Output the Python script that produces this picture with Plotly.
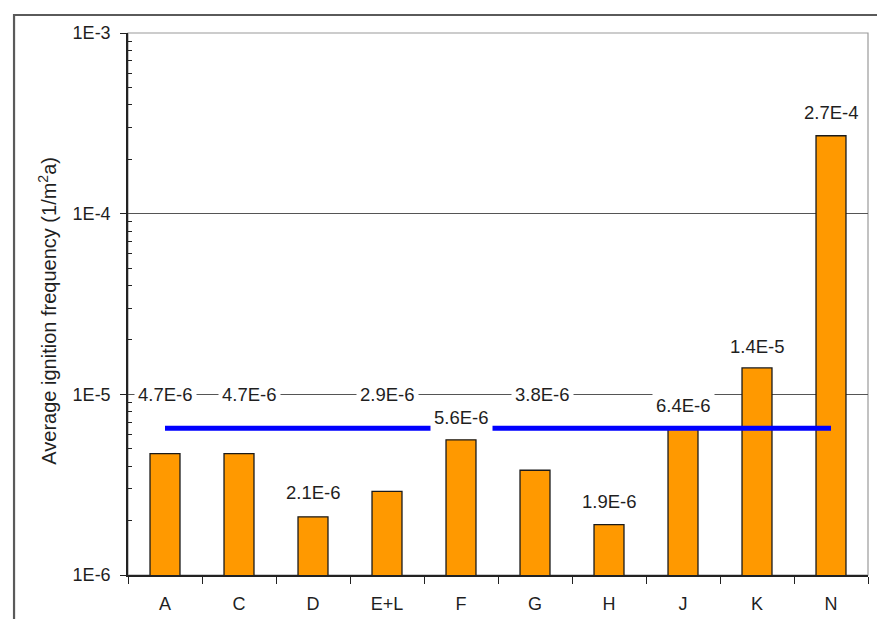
import plotly.graph_objects as go
import numpy as np

# Sites and their average ignition frequencies (1/m²a)
categories = ["A", "C", "D", "E+L", "F", "G", "H", "J", "K", "N"]
frequencies = [4.7e-6, 4.7e-6, 2.1e-6, 2.9e-6, 5.6e-6, 3.8e-6, 1.9e-6, 6.4e-6, 1.4e-5, 2.7e-4]

# Overall average level drawn as a reference line
average_level = [6.5e-6, 6.5e-6]
average_span = ["A", "N"]

# Heights at which the value labels are placed
label_heights = [1.0e-5, 1.0e-5, 2.88e-6, 1.0e-5, 7.4e-6, 1.0e-5, 2.54e-6, 8.7e-6, 1.85e-5, 3.65e-4]
label_xshift = [0, 10, 0, 0, 0, 7, 0, 0, 0, 0]

y_tickvals = [1e-6, 1e-5, 1e-4, 1e-3]
y_ticktext = ["1E-6", "1E-5", "1E-4", "1E-3"]
y_minor = [k * 10.0 ** e for e in (-6, -5, -4) for k in range(2, 10)]

FONT = "Liberation Sans, Arial, sans-serif"
TEXT = "#1f1f1f"


def sci(v):
    mant, exp = f"{v:.1E}".split("E")
    return f"{mant}E{int(exp)}"


fig = go.Figure()

fig.add_trace(go.Bar(
    x=categories,
    y=frequencies,
    width=0.405,
    marker=dict(color="#FF9900", line=dict(color="#1a1a1a", width=1.3)),
    hoverinfo="x+y",
))

fig.add_trace(go.Scatter(
    x=average_span,
    y=average_level,
    mode="lines",
    line=dict(color="#0000FF", width=5),
    hoverinfo="skip",
))

for cat, val, h, dx in zip(categories, frequencies, label_heights, label_xshift):
    fig.add_annotation(
        x=cat, y=np.log10(h), text=sci(val), showarrow=False,
        xshift=dx, bgcolor="white", borderpad=3,
        font=dict(family=FONT, size=18.5, color=TEXT),
    )

# y-axis title
fig.add_annotation(
    x=-0.11, y=0.487, xref="paper", yref="paper",
    text="Average ignition frequency (1/m<sup>2</sup>a)",
    textangle=-90, showarrow=False, xanchor="center", yanchor="middle",
    font=dict(family=FONT, size=20, color=TEXT),
)

# light frame around the plotting area
fig.add_shape(type="rect", xref="paper", yref="paper", x0=0, y0=0, x1=1, y1=1,
              line=dict(color="#9a9a9a", width=1.2), layer="below")
# outer frame of the figure
fig.add_shape(type="rect", xref="paper", yref="paper",
              x0=-0.154, y0=-0.2, x1=1.1, y1=1.0332,
              line=dict(color="#5a5a5a", width=2.2), layer="above")

fig.update_layout(
    width=877, height=619,
    margin=dict(l=128, r=9, t=33, b=44),
    paper_bgcolor="white", plot_bgcolor="white",
    showlegend=False,
    font=dict(family=FONT, color=TEXT),
    xaxis=dict(
        type="category", categoryorder="array", categoryarray=categories,
        range=[-0.5, len(categories) - 0.5], automargin=False,
        tickson="boundaries", ticks="outside", ticklen=7, tickwidth=1.3,
        tickcolor="#222", showline=True, linecolor="#222", linewidth=1.5,
        showgrid=False, ticklabelstandoff=12,
        tickfont=dict(family=FONT, size=18, color=TEXT),
    ),
    yaxis=dict(
        type="log", range=[-6, -3], automargin=False,
        tickmode="array", tickvals=y_tickvals, ticktext=y_ticktext,
        ticks="outside", ticklen=6, tickwidth=1.3, tickcolor="#222",
        showline=True, linecolor="#222", linewidth=1.5,
        showgrid=True, gridcolor="#555", gridwidth=1.3,
        zeroline=False, ticklabelstandoff=6,
        tickfont=dict(family=FONT, size=18, color=TEXT),
        minor=dict(tickmode="array", tickvals=y_minor, ticks="inside",
                   ticklen=4, tickwidth=1.2, tickcolor="#222", showgrid=False),
    ),
)

fig.write_html("out.html")
